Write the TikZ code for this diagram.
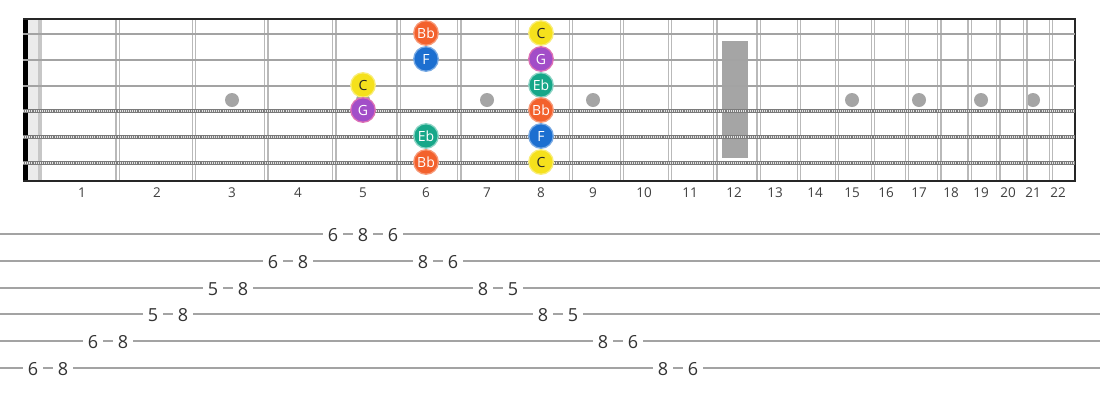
\documentclass[tikz,border=0pt]{standalone}
\usepackage{fontspec}
\setmainfont{Open Sans}
\usetikzlibrary{positioning}
\definecolor{fretgray}{HTML}{B9B9B9}
\definecolor{stringgray}{HTML}{A3A3A3}
\definecolor{inlaygray}{HTML}{A5A5A5}
\definecolor{colBb}{HTML}{F3612D}
\definecolor{colF}{HTML}{1C6FD0}
\definecolor{colC}{HTML}{F5E11C}
\definecolor{colG}{HTML}{A24DC8}
\definecolor{colEb}{HTML}{17A789}
\tikzset{
  note/.style={circle, minimum size=24.5pt, inner sep=0pt, line width=1.3pt,
    font=\fontsize{14}{14}\selectfont, text=white},
  note Bb/.style={note, fill=colBb, draw=colBb!65!white},
  note F/.style={note, fill=colF, draw=colF!60!white},
  note C/.style={note, fill=colC, draw=colC!60!white, text=black!85},
  note G/.style={note, fill=colG, draw=magenta!55!colG!70!white},
  note Eb/.style={note, fill=colEb, draw=colEb!50!white},
  fretnum/.style={font=\fontsize{13.5}{13.5}\selectfont, text=black!75},
  tabnum/.style={fill=white, inner xsep=5pt, inner ysep=1pt, font=\fontsize{18}{18}\selectfont, text=black!80},
  plainstring/.style={stringgray, line width=2.8pt},
  woundbase/.style={stringgray!75!black, line width=4.8pt},
  woundtex/.style={white!80!gray, line width=2.6pt, dash pattern=on 1pt off 1.1pt}
}
\begin{document}
\begin{tikzpicture}[x=1pt,y=-1pt]
\useasboundingbox[fill=white] (0,0) rectangle (1100,400);

% Tabellen fuer Saiten und Buende
\def\strY{{0,34,60,86,111,137,163}}
\def\lblX{{0,82,157,232,298,363,426,487,541,593,644,690,734,775,815,852,886,919,951,981,1008,1033,1058}}
\def\tabY{{0,234,261,288,314,341,368}}

% Sattel (schwarz) und graues Band daneben
\fill[black] (23,19) rectangle (28,181);
\fill[black!8] (28,19) rectangle (38,181);
\fill[black!22] (38,19) rectangle (42,181);

% Einlagen: Punkte und Balken am 12. Bund
\foreach \f in {3,5,7,9,15,17,19,21}{
  \pgfmathsetmacro\xx{\lblX[\f]}
  \fill[inlaygray] (\xx,100) circle (7);
}
\fill[inlaygray] (722,41) rectangle (748,158);

% Buende als Doppellinien
\foreach \n in {1,...,21}{
  \pgfmathsetmacro\fx{37+1443*(1-pow(2,-\n/12))}
  \draw[fretgray, line width=1.2pt] (\fx-1.6,19) -- (\fx-1.6,181);
  \draw[fretgray, line width=1.2pt] (\fx+1.6,19) -- (\fx+1.6,181);
}

% Rahmen
\draw[black!85, line width=2pt] (23,19) -- (1075,19);
\draw[black!85, line width=2pt] (23,181) -- (1075,181);
\draw[black!85, line width=2pt] (1075,18) -- (1075,182);

% Saiten: drei blanke, drei umsponnene
\foreach \s in {1,2,3}{
  \pgfmathsetmacro\yy{\strY[\s]}
  \draw[plainstring] (23,\yy) -- (1075,\yy);
}
\foreach \s in {4,5,6}{
  \pgfmathsetmacro\yy{\strY[\s]}
  \draw[woundbase] (23,\yy) -- (1075,\yy);
  \draw[woundtex] (23,\yy) -- (1075,\yy);
}

% Bundnummern
\foreach \f in {1,...,22}{
  \pgfmathsetmacro\xx{\lblX[\f]}
  \node[fretnum] (lbl\f) at (\xx,193) {\f};
}

% Toene der Tonleiter (Bund/Saite/Name)
\foreach \f/\s/\nm in {6/1/Bb,6/2/F,6/5/Eb,6/6/Bb,8/1/C,8/2/G,8/3/Eb,8/4/Bb,8/5/F,8/6/C,5/3/C,5/4/G}{
  \pgfmathsetmacro\xx{\lblX[\f]}
  \pgfmathsetmacro\yy{\strY[\s]}
  \node[note \nm] (n\f s\s) at (\xx,\yy-1) {\nm};
}

% Tabulatur: Linien
\foreach \s in {1,...,6}{
  \pgfmathsetmacro\yy{\tabY[\s]}
  \draw[stringgray, line width=1.8pt] (0,\yy) -- (1100,\yy);
}

% Tabulatur: Ziffern (Saite/Bund), Abstand 30
\foreach \s/\f [count=\k from 0] in {6/6,6/8,5/6,5/8,4/5,4/8,3/5,3/8,2/6,2/8,1/6,1/8,1/6,2/8,2/6,3/8,3/5,4/8,4/5,5/8,5/6,6/8,6/6}{
  \pgfmathsetmacro\yy{\tabY[\s]}
  \node[tabnum] (t\k) at (33+30*\k,\yy+1) {\f};
}

\end{tikzpicture}
\end{document}
